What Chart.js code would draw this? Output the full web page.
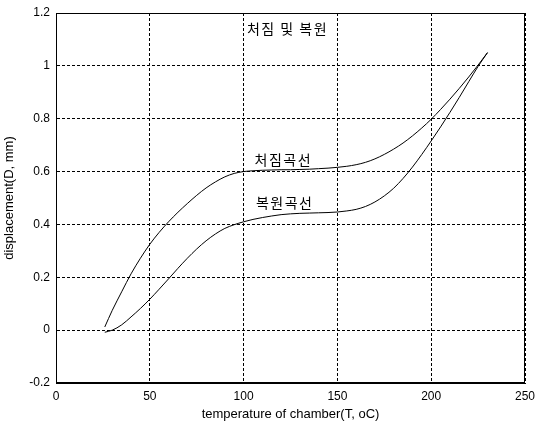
<!DOCTYPE html>
<html>
<head>
<meta charset="utf-8">
<script src="https://cdn.jsdelivr.net/npm/chart.js@4"></script>
<style>
body { margin: 0; background: #fff; }
</style>
</head>
<body>
<canvas id="graph" width="536" height="427"></canvas>
<script>
// temperature of chamber (oC)
const temps = [26, 30, 35, 40, 45, 50, 55, 60, 65, 70, 75, 80, 85, 90, 95, 100,
               105, 110, 115, 120, 125, 130, 135, 140, 145, 150, 155, 160, 165, 170,
               175, 180, 185, 190, 195, 200, 205, 210, 215, 220, 225, 230];
// 처짐곡선 (deflection)
const sagD = [0.012, 0.075, 0.145, 0.213, 0.272, 0.325, 0.37, 0.41, 0.446, 0.479, 0.51, 0.538, 0.561, 0.58, 0.593, 0.60,
              0.603, 0.605, 0.606, 0.607, 0.607, 0.608, 0.609, 0.611, 0.613, 0.616, 0.62, 0.626, 0.635, 0.648,
              0.665, 0.685, 0.708, 0.735, 0.765, 0.798, 0.835, 0.874, 0.915, 0.958, 1.003, 1.05];
// 복원곡선 (recovery)
const recD = [-0.008, 0.0, 0.02, 0.05, 0.082, 0.117, 0.155, 0.194, 0.234, 0.272, 0.307, 0.338, 0.364, 0.385, 0.399, 0.41,
              0.419, 0.426, 0.432, 0.437, 0.44, 0.442, 0.443, 0.444, 0.445, 0.447, 0.451, 0.457, 0.468, 0.485,
              0.508, 0.537, 0.574, 0.617, 0.665, 0.716, 0.769, 0.824, 0.881, 0.94, 0.998, 1.05];

const xTicks = [0, 50, 100, 150, 200, 250];
const yTicks = [-0.2, 0, 0.2, 0.4, 0.6, 0.8, 1, 1.2];

// annotation texts with their data positions
const notes = [
    {text: '처짐 및 복원', x: 123, y: 1.139, sp: 1.5},
    {text: '처짐곡선', x: 120.8, y: 0.646, sp: 1.5},
    {text: '복원곡선', x: 121.5, y: 0.481, sp: 1.5}
];

const pts = (ys) => temps.map((t, i) => ({x: t, y: ys[i]}));

const frame = {
    id: 'frame',
    afterDraw(chart) {
        const {ctx, chartArea: a, scales} = chart;
        ctx.save();
        ctx.setLineDash([]);
        ctx.strokeStyle = '#000';
        ctx.lineWidth = 1;
        ctx.strokeRect(a.left + 0.5, a.top + 0.5, a.right - a.left - 1, a.bottom - a.top - 1);
        ctx.fillStyle = '#000';
        ctx.font = '14px "Noto Sans CJK KR"';
        ctx.textAlign = 'center';
        ctx.textBaseline = 'middle';
        notes.forEach(n => {
            ctx.letterSpacing = n.sp + 'px';
            ctx.fillText(n.text, scales.x.getPixelForValue(n.x) + n.sp / 2, scales.y.getPixelForValue(n.y));
        });
        ctx.restore();
    }
};

const tickFont = {family: '"Liberation Sans", Arial, sans-serif', size: 12};
const titleFont = {family: '"Liberation Sans", Arial, sans-serif', size: 13};

new Chart(document.getElementById('graph'), {
    type: 'line',
    data: {
        datasets: [
            {label: '처짐곡선', data: pts(sagD), borderColor: '#000', borderWidth: 1, pointRadius: 0, cubicInterpolationMode: 'monotone', fill: false},
            {label: '복원곡선', data: pts(recD), borderColor: '#000', borderWidth: 1, pointRadius: 0, cubicInterpolationMode: 'monotone', fill: false}
        ]
    },
    options: {
        responsive: false,
        animation: false,
        layout: {padding: {left: 0, right: 11, top: 13, bottom: 0}},
        plugins: {legend: {display: false}, tooltip: {enabled: false}},
        scales: {
            x: {
                type: 'linear', min: 0, max: 250,
                afterBuildTicks: s => { s.ticks = xTicks.map(v => ({value: v})); },
                afterFit: s => { s.height = 44; s.paddingLeft = 0; s.paddingRight = 0; },
                grid: {color: '#000', lineWidth: 1, drawTicks: false},
                border: {display: true, color: '#000', width: 1, dash: [3, 2]},
                ticks: {color: '#000', font: tickFont, padding: 6, maxRotation: 0,
                        callback: v => String(v)},
                title: {display: true, text: 'temperature of chamber(T, oC)', color: '#000',
                        font: titleFont, padding: {top: 0, bottom: 5}}
            },
            y: {
                type: 'linear', min: -0.2, max: 1.2,
                afterBuildTicks: s => { s.ticks = yTicks.map(v => ({value: v})); },
                afterFit: s => { s.width = 56; s.paddingTop = 0; s.paddingBottom = 0; },
                grid: {color: '#000', lineWidth: 1, drawTicks: false},
                border: {display: true, color: '#000', width: 1, dash: [3, 2]},
                ticks: {color: '#000', font: tickFont, padding: 6,
                        callback: v => String(Math.round(v * 10) / 10)},
                title: {display: true, text: 'displacement(D, mm)', color: '#000',
                        font: titleFont, padding: {top: 2, bottom: 0}}
            }
        }
    },
    plugins: [frame]
});
</script>
</body>
</html>
